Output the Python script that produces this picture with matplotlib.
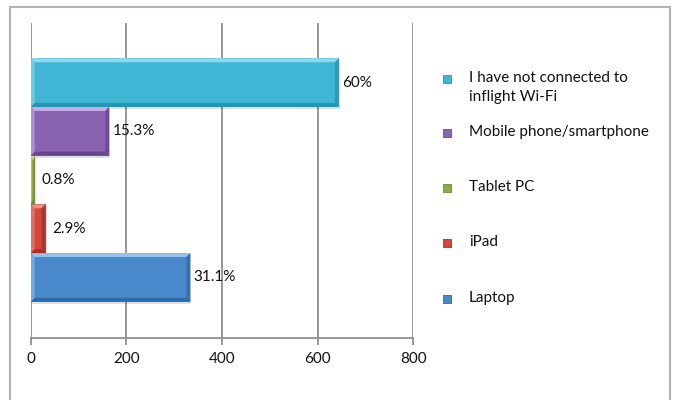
import matplotlib
matplotlib.use("Agg")
import matplotlib.pyplot as plt
from matplotlib.patches import Polygon, Rectangle
import numpy as np

plt.rcParams['font.family'] = ['Lato', 'DejaVu Sans']
plt.rcParams['font.size'] = 11

# survey data (bottom to top)
categories = ['Laptop', 'iPad', 'Tablet PC', 'Mobile phone/smartphone',
              'I have not connected to\ninflight Wi-Fi']
percents = [31.1, 2.9, 0.8, 15.3, 60.0]
respondents = 1074
counts = [p / 100 * respondents for p in percents]
xticks = [0, 200, 400, 600, 800]

# base / light / dark shades for the bevelled bars
colors = [
    ('#4a88cc', '#8fc3f2', '#2f6aa8'),
    ('#d2473e', '#f08a80', '#a8302a'),
    ('#8aab47', '#bcd98a', '#6a8a30'),
    ('#8a63b0', '#cba8ea', '#68468c'),
    ('#41b6d4', '#85dcee', '#2a93ad'),
]

W, H = 673, 400
fig = plt.figure(figsize=(W / 100, H / 100), dpi=100)
fig.patches.append(Rectangle((10 / W, -0.1), 660 / W, 1.1 - 7 / H,
                             transform=fig.transFigure, fill=False,
                             edgecolor='#b3b3b3', lw=1.5))

left, right, top, bottom = 30.7, 413.3, 22.7, 338.3
ax = fig.add_axes([left / W, 1 - bottom / H, (right - left) / W, (bottom - top) / H])
ax.set_xlim(0, 800)
ax.set_ylim(-1.25, 5.23)

px_x = 800 / (right - left)          # data units per pixel, x
px_y = 6.48 / (bottom - top)         # data units per pixel, y
bev = 4


def bevel_bar(ax, y, w, h, shades):
    base, light, dark = shades
    x0, x1 = 0, w
    y0, y1 = y - h / 2, y + h / 2
    bx = min(bev * px_x, w / 3)
    by = bev * px_y
    # soft shadow below
    ax.add_patch(Rectangle((x0 + px_x, y0 - 2 * px_y), w, h, color='#000000',
                           alpha=0.12, lw=0, zorder=2))
    ax.add_patch(Rectangle((x0, y0), w, h, color=base, lw=0, zorder=3))
    ax.add_patch(Polygon([(x0, y1), (x1, y1), (x1 - bx, y1 - by), (x0 + bx, y1 - by)],
                         closed=True, color=light, lw=0, zorder=4))
    ax.add_patch(Polygon([(x0, y0), (x1, y0), (x1 - bx, y0 + by), (x0 + bx, y0 + by)],
                         closed=True, color=dark, lw=0, zorder=4))
    ax.add_patch(Polygon([(x1, y0), (x1, y1), (x1 - bx, y1 - by), (x1 - bx, y0 + by)],
                         closed=True, color=dark, alpha=0.8, lw=0, zorder=4))
    ax.add_patch(Polygon([(x0, y0), (x0, y1), (x0 + bx, y1 - by), (x0 + bx, y0 + by)],
                         closed=True, color=light, alpha=0.6, lw=0, zorder=4))


for i, (c, p) in enumerate(zip(counts, percents)):
    bevel_bar(ax, i, c, 1.0, colors[i])
    label = f"{p:g}%"
    ax.annotate(label, (c, i), xytext=(3 if c > 50 else 7, 0), textcoords='offset pixels',
                va='center', ha='left', fontsize=11, color='#111111', zorder=5)

ax.set_xticks(xticks)
ax.set_yticks([])
ax.grid(axis='x', color='#8f8f8f', lw=1.3, zorder=1)
for s in ['top', 'right', 'left']:
    ax.spines[s].set_visible(False)
ax.spines['bottom'].set_color('#8f8f8f')
ax.spines['bottom'].set_linewidth(1.3)
ax.tick_params(axis='x', length=5, width=1.3, color='#8f8f8f', pad=5,
               labelsize=11, labelcolor='#111111')

# legend, top entry first
leg_y = [79, 133, 187.5, 243, 299]
for k, i in enumerate(reversed(range(len(categories)))):
    y = leg_y[k]
    fig.patches.append(Rectangle(((446.7 - 4) / W, 1 - (y + 4) / H), 8 / W, 8 / H,
                                 transform=fig.transFigure, facecolor=colors[i][0],
                                 edgecolor=colors[i][2], lw=0.6))
    lines = categories[i].split('\n')
    for j, line in enumerate(lines):
        fig.text(469 / W, 1 - (y - 1 + j * 19) / H, line, va='center', ha='left',
                 fontsize=11, color='#111111')

fig.savefig('out.png', dpi=100)
